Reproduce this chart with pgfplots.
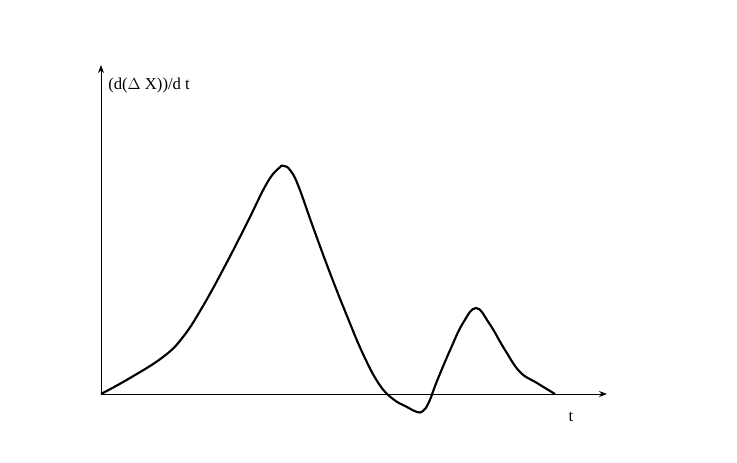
\documentclass[border=0pt]{standalone}
\usepackage{pgfplots}
\pgfplotsset{compat=1.18}
\usepackage{fontspec}
\setmainfont{Liberation Serif}
\usetikzlibrary{arrows.meta}
\begin{document}
\begin{tikzpicture}
\begin{axis}[
  scale only axis, x=0.75pt, y=0.75pt,
  xmin=-101, xmax=636, ymin=-68, ymax=394,
  hide axis, clip=false,
]
\path (axis cs:-101,-68) rectangle (axis cs:636,394);
\draw[line width=0.75pt, -{Stealth[length=6pt,width=4.5pt]}] (axis cs:0,0) -- (axis cs:506,0);
\draw[line width=0.75pt, -{Stealth[length=6pt,width=4.5pt]}] (axis cs:0,0) -- (axis cs:0,329);
\addplot[black, line width=1.6pt, smooth, tension=0.7] coordinates {
(0,0) (29,16) (62,37) (82,57) (102,88) (125,130) (146,171) (166,211)
(178,226) (183,228) (189,224) (197,209) (212,167) (229,121) (246,78)
(262,40) (278,10) (292,-5) (306,-13) (316,-18) (322,-17) (328,-8)
(336,13) (350,46) (362,71) (375,86) (388,71) (404,44) (419,22) (436,11) (454,0)
};
\node[anchor=west, font=\fontsize{12.5pt}{14pt}\selectfont, inner sep=0pt] at (axis cs:7,309) {(d($\Delta$ X))/d t};
\node[font=\fontsize{12.5pt}{14pt}\selectfont, inner sep=0pt] at (axis cs:470,-23) {t};
\end{axis}
\end{tikzpicture}
\end{document}
